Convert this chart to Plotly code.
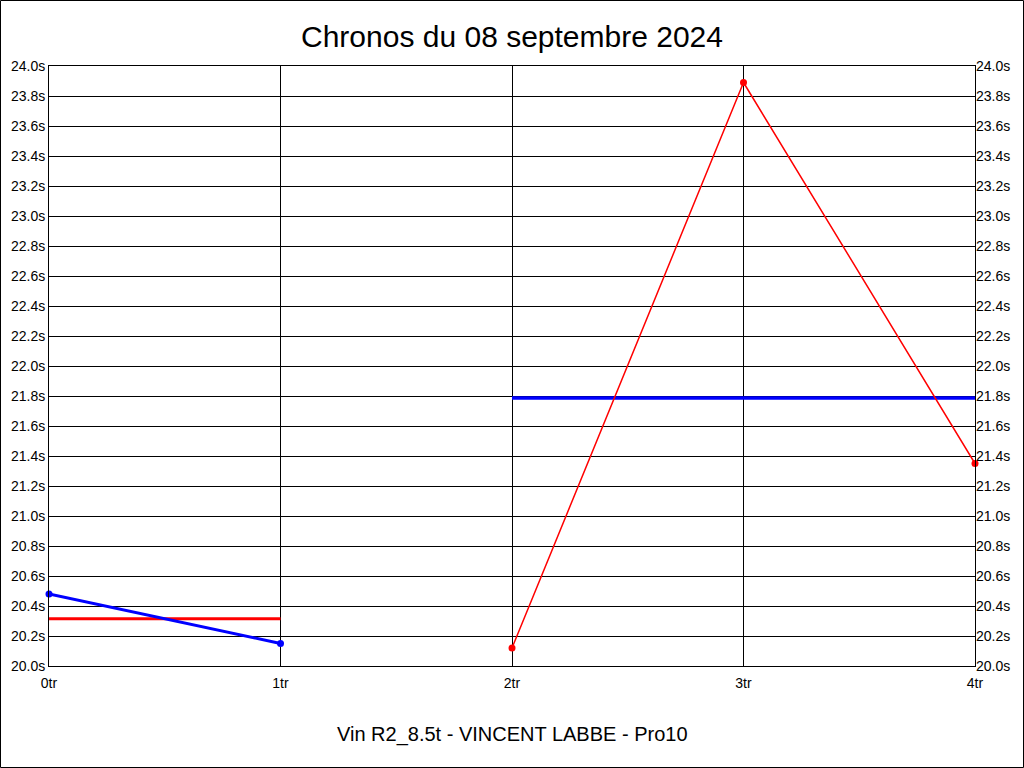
import plotly.graph_objects as go

title = "Chronos du 08 septembre 2024"
xlabel = "Vin R2_8.5t - VINCENT LABBE - Pro10"

x_ticks = [0, 1, 2, 3, 4]
x_labels = ["0tr", "1tr", "2tr", "3tr", "4tr"]
blue_x = [0, 1]
blue_y = [20.48, 20.15]
blue_avg = 20.315
red_x = [2, 3, 4]
red_y = [20.12, 23.89, 21.35]
red_avg = 21.787

fig = go.Figure()
fig.add_trace(go.Scatter(x=[blue_x[0], blue_x[-1]], y=[blue_avg] * 2, mode="lines",
                         line=dict(color="#ff0000", width=3), hoverinfo="skip"))
fig.add_trace(go.Scatter(x=blue_x, y=blue_y, mode="lines+markers", cliponaxis=False,
                         line=dict(color="#0000ff", width=3), marker=dict(size=7, color="#0000ff")))
fig.add_trace(go.Scatter(x=[red_x[0], red_x[-1]], y=[red_avg] * 2, mode="lines",
                         line=dict(color="#0000ff", width=3.5), hoverinfo="skip"))
fig.add_trace(go.Scatter(x=red_x, y=red_y, mode="lines+markers", cliponaxis=False,
                         line=dict(color="#ff0000", width=1.5), marker=dict(size=7, color="#ff0000")))
fig.add_trace(go.Scatter(x=[0, 4], y=[20, 24], mode="markers", yaxis="y2",
                         marker=dict(opacity=0), hoverinfo="skip"))

L, R, T, B = 49, 49, 66, 102
W, H = 1024, 768
pw, ph = W - L - R, H - T - B

fam = "Liberation Sans, Arial, sans-serif"
axfont = dict(family=fam, size=14, color="#000")
fig.update_layout(
    width=W, height=H, margin=dict(l=L, r=R, t=T, b=B, autoexpand=False),
    paper_bgcolor="white", plot_bgcolor="white", showlegend=False,
    title=dict(text=title, x=0.5, xanchor="center", y=1 - 36 / H, yanchor="middle",
               font=dict(family=fam, size=30, color="#000"), automargin=False),
    xaxis=dict(range=[0, 4], tickvals=x_ticks, ticktext=x_labels, showgrid=True,
               gridcolor="#000", gridwidth=1, showline=True, linecolor="#000", linewidth=1,
               mirror=True, zeroline=False, ticks="outside", ticklen=4, tickcolor="rgba(0,0,0,0)",
               tickfont=axfont, automargin=False),
    yaxis=dict(range=[20, 24], dtick=0.2, tick0=20, tickformat=".1f", ticksuffix="s",
               showgrid=True, gridcolor="#000", gridwidth=1, showline=True, linecolor="#000",
               linewidth=1, mirror=True, zeroline=False, ticks="", tickfont=axfont,
               automargin=False),
    yaxis2=dict(range=[20, 24], dtick=0.2, tick0=20, tickformat=".1f", ticksuffix="s",
                overlaying="y", side="right", showgrid=False, zeroline=False, ticks="",
                tickfont=axfont, automargin=False),
    annotations=[dict(text=xlabel, xref="paper", yref="paper", x=0.5, y=-(734 - T - ph) / ph,
                      xanchor="center", yanchor="middle", showarrow=False,
                      font=dict(family=fam, size=20, color="#000"))],
    shapes=[dict(type="rect", xref="paper", yref="paper",
                 x0=(0.5 - L) / pw, x1=(W - 0.5 - L) / pw,
                 y0=-(H - 0.5 - T - ph) / ph, y1=1 + (T - 0.5) / ph,
                 line=dict(color="#000", width=1))],
)

fig.write_html("out.html", config={"displayModeBar": False},
               post_script="document.body.style.margin='0';document.body.style.overflow='hidden';")
